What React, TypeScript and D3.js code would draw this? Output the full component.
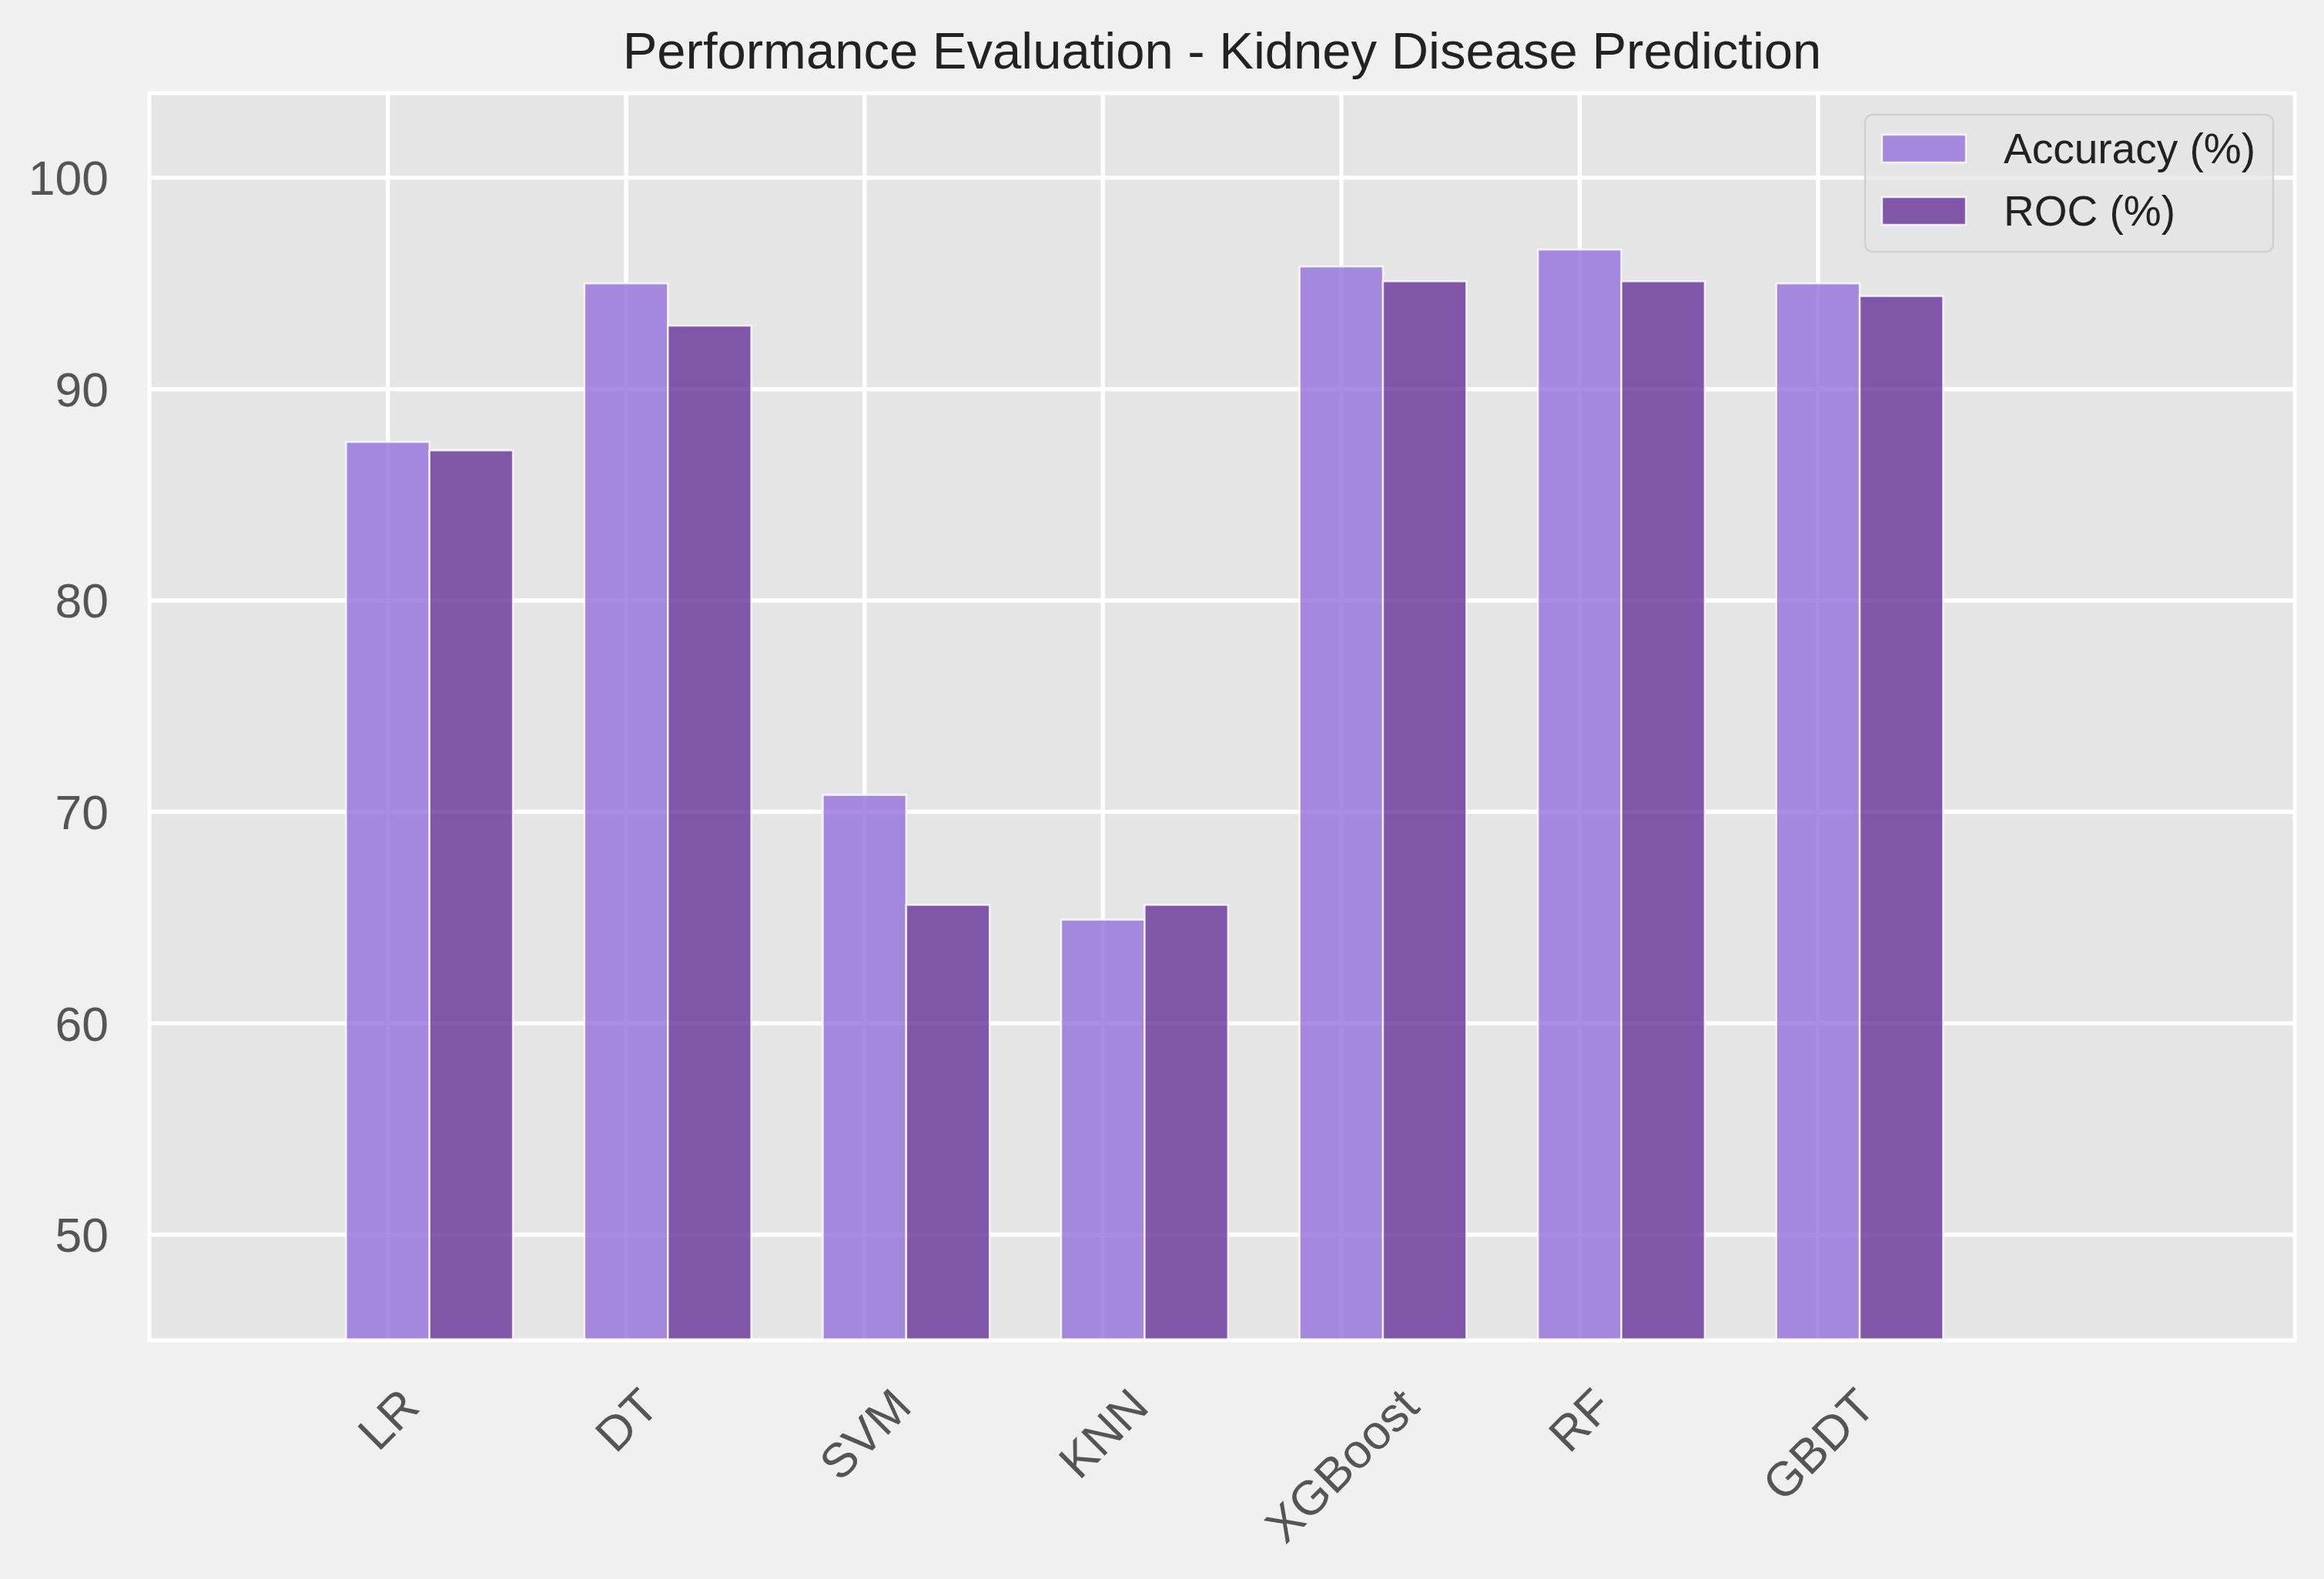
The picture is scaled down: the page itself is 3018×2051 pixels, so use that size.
import { useEffect, useRef } from 'react';
import * as d3 from 'd3';

// Chart values
const categories = ['LR', 'DT', 'SVM', 'KNN', 'XGBoost', 'RF', 'GBDT'];
const accuracy = [87.5, 95.0, 70.8, 64.9, 95.8, 96.6, 95.0];
const roc = [87.1, 93.0, 65.6, 65.6, 95.1, 95.1, 94.4];
const yTicks = [50, 60, 70, 80, 90, 100];
const seriesNames = ['Accuracy (%)', 'ROC (%)'];
const seriesColors = ['mediumpurple', 'rebeccapurple'];
const title = 'Performance Evaluation - Kidney Disease Prediction';

const WIDTH = 3018;
const HEIGHT = 2051;
const FONT = '"Liberation Sans", Arial, "DejaVu Sans", sans-serif';
const TICK_SIZE = 62.5;

export default function App() {
  const svgRef = useRef<SVGSVGElement>(null);

  useEffect(() => {
    if (!svgRef.current) return;
    const svg = d3.select(svgRef.current);
    svg.selectAll('*').remove();

    const margin = { top: 121, right: 38, bottom: 310, left: 194 };
    const innerWidth = WIDTH - margin.left - margin.right;
    const innerHeight = HEIGHT - margin.top - margin.bottom;

    const x = d3.scaleLinear().domain([-1, 8]).range([0, innerWidth]);
    const y = d3.scaleLinear().domain([45, 104]).range([innerHeight, 0]);
    const barWidth = 0.35;
    const barPx = x(barWidth) - x(0);

    // figure background
    svg.append('rect')
      .attr('width', WIDTH)
      .attr('height', HEIGHT)
      .attr('fill', '#f0f0f0');

    const g = svg.append('g')
      .attr('transform', `translate(${margin.left},${margin.top})`);

    svg.append('defs')
      .append('clipPath')
      .attr('id', 'plot-clip')
      .append('rect')
      .attr('width', innerWidth)
      .attr('height', innerHeight);

    // axes background
    g.append('rect')
      .attr('width', innerWidth)
      .attr('height', innerHeight)
      .attr('fill', '#e5e5e5');

    // grid
    g.selectAll('.hgrid')
      .data(yTicks)
      .join('line')
      .attr('x1', 0)
      .attr('x2', innerWidth)
      .attr('y1', d => y(d))
      .attr('y2', d => y(d))
      .attr('stroke', '#ffffff')
      .attr('stroke-width', 5.5);

    g.selectAll('.vgrid')
      .data(categories)
      .join('line')
      .attr('x1', (_, i) => x(i))
      .attr('x2', (_, i) => x(i))
      .attr('y1', 0)
      .attr('y2', innerHeight)
      .attr('stroke', '#ffffff')
      .attr('stroke-width', 5.5);

    // bars
    const bars = g.append('g').attr('clip-path', 'url(#plot-clip)');
    [accuracy, roc].forEach((values, s) => {
      bars.selectAll(`.bar-${s}`)
        .data(values)
        .join('rect')
        .attr('x', (_, i) => x(i + s * barWidth - barWidth / 2))
        .attr('y', d => y(d))
        .attr('width', barPx)
        .attr('height', d => innerHeight - y(d) + 10)
        .attr('fill', seriesColors[s])
        .attr('fill-opacity', 0.8)
        .attr('stroke', '#ffffff')
        .attr('stroke-opacity', 0.8)
        .attr('stroke-width', 2.5);
    });

    // spines
    g.append('rect')
      .attr('width', innerWidth)
      .attr('height', innerHeight)
      .attr('fill', 'none')
      .attr('stroke', '#ffffff')
      .attr('stroke-width', 5);

    // y tick labels
    g.selectAll('.ytick')
      .data(yTicks)
      .join('text')
      .attr('x', -53)
      .attr('y', d => y(d))
      .attr('dy', '0.36em')
      .attr('text-anchor', 'end')
      .attr('font-family', FONT)
      .attr('font-size', TICK_SIZE)
      .attr('fill', '#555555')
      .text(d => d);

    // x tick labels, rotated 45 degrees and centred on the tick like matplotlib
    const labelTop = innerHeight + 48;
    const lineH = TICK_SIZE * 1.15;
    g.selectAll('.xtick')
      .data(categories)
      .join('text')
      .attr('text-anchor', 'middle')
      .attr('dy', '0.36em')
      .attr('font-family', FONT)
      .attr('font-size', TICK_SIZE)
      .attr('fill', '#555555')
      .text(d => d)
      .each(function (_, i) {
        const node = this as SVGTextElement;
        const w = node.getComputedTextLength();
        const half = (w + lineH) / (2 * Math.SQRT2);
        d3.select(node).attr(
          'transform',
          `translate(${x(i)},${labelTop + half}) rotate(-45)`
        );
      });

    // title
    g.append('text')
      .attr('x', innerWidth / 2)
      .attr('y', 89 - margin.top)
      .attr('text-anchor', 'middle')
      .attr('font-family', FONT)
      .attr('font-size', 67)
      .attr('fill', '#222222')
      .text(title);

    // legend
    const legendW = 530;
    const legendH = 178;
    const legend = g.append('g')
      .attr('transform', `translate(${innerWidth - 28 - legendW},28)`);
    legend.append('rect')
      .attr('width', legendW)
      .attr('height', legendH)
      .attr('rx', 10)
      .attr('fill', '#e5e5e5')
      .attr('fill-opacity', 0.8)
      .attr('stroke', '#cccccc')
      .attr('stroke-opacity', 0.8)
      .attr('stroke-width', 2.5);
    seriesNames.forEach((name, s) => {
      const rowY = 44 + s * 81;
      legend.append('rect')
        .attr('x', 22)
        .attr('y', rowY - 18)
        .attr('width', 109)
        .attr('height', 36)
        .attr('fill', seriesColors[s])
        .attr('fill-opacity', 0.8)
        .attr('stroke', '#ffffff')
        .attr('stroke-opacity', 0.8)
        .attr('stroke-width', 2.5);
      legend.append('text')
        .attr('x', 180)
        .attr('y', rowY + 19)
        .attr('font-family', FONT)
        .attr('font-size', 55)
        .attr('fill', '#222222')
        .text(name);
    });
  }, []);

  return (
    <svg
      ref={svgRef}
      width={WIDTH}
      height={HEIGHT}
      style={{ position: 'absolute', left: 0, top: 0, display: 'block' }}
    />
  );
}
